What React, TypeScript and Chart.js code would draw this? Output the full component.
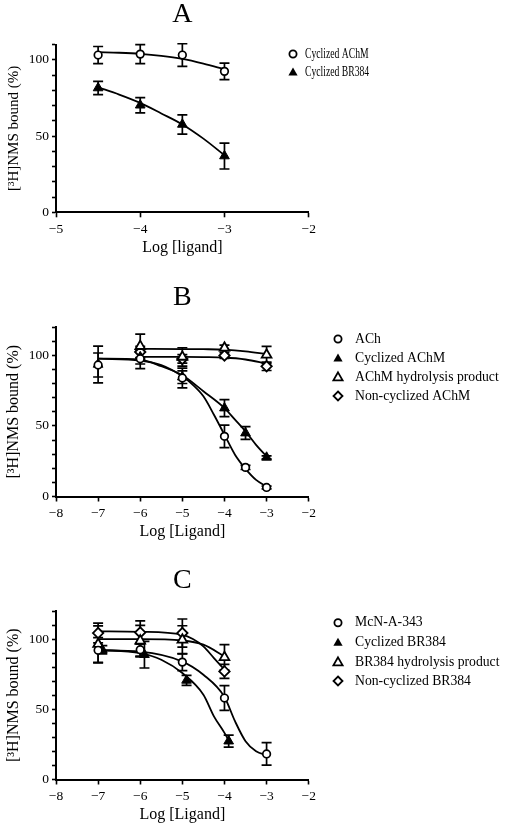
import React, { useEffect, useRef } from 'react';
import { Chart, registerables } from 'chart.js';

Chart.register(...registerables);

const FONT = "'Liberation Serif', 'Times New Roman', Times, serif";

// ---------------- Shared tick labels ----------------
const yTickValues = [0, 50, 100];
const yTickLabels = ['0', '50', '100'];
const yTitle = '[³H]NMS bound (%)';

// ---------------- Panel A ----------------
const aXTickValues = [-5, -4, -3, -2];
const aXTickLabels = ['−5', '−4', '−3', '−2'];
const aLegend = ['Cyclized AChM', 'Cyclized BR384'];
const aX = [-4.5, -4, -3.5, -3];
const aCycAChM = [103.1, 103.7, 103.1, 92.4];
const aCycAChMErr = [5.6, 6.2, 7.4, 5.4];
const aCycBR = [81.5, 70.2, 57.6, 36.9];
const aCycBRErr = [4.3, 5.0, 6.3, 8.5];
const aFitX = [-4.5, -4.25, -4, -3.75, -3.5, -3.25, -3];
const aFitAChM = [105, 104.6, 103.9, 102.6, 100.6, 97.5, 93.8];
const aFitBR = [81.9, 77.2, 71.7, 64.8, 57.6, 48.3, 37.4];

// ---------------- Panel B ----------------
const bXTickValues = [-8, -7, -6, -5, -4, -3, -2];
const bXTickLabels = ['−8', '−7', '−6', '−5', '−4', '−3', '−2'];
const bLegend = ['ACh', 'Cyclized AChM', 'AChM hydrolysis product', 'Non-cyclized AChM'];
const bAChX = [-7, -6, -5, -4, -3.5, -3];
const bACh = [93.1, 97.5, 83.9, 42.6, 20.6, 6.4];
const bAChErr = [8.5, 7, 7, 8, 1.5, 1];
const bCycX = [-7, -6, -5, -4, -3.5, -3];
const bCyc = [93.5, 98.8, 84.5, 62.6, 44.9, 27.7];
const bCycErr = [13, 5, 4.5, 6, 4.5, 1];
const bHydX = [-6, -5, -4, -3];
const bHyd = [106.4, 98.8, 105.2, 100.3];
const bHydErr = [8.5, 6.5, 2, 6];
const bNonX = [-6, -5, -4, -3];
const bNon = [102.3, 97.4, 99.8, 92.2];
const bNonErr = [4, 3, 2, 3];
const bFitAChX = [-7, -6, -5.5, -5, -4.75, -4.5, -4.25, -4, -3.75, -3.5, -3.25, -3];
const bFitACh = [97.6, 96.2, 93, 85.1, 79, 70.9, 57.9, 43.7, 29.6, 19.6, 11.8, 7.1];
const bFitCycX = [-7, -6, -5.5, -5, -4.5, -4, -3.75, -3.5, -3.25, -3];
const bFitCyc = [97.6, 96.9, 92.2, 85.8, 74.5, 62.6, 54.4, 46.1, 36.6, 28.4];
const bFitHydX = [-6, -5, -4.5, -4, -3.5, -3];
const bFitHyd = [104.5, 104.4, 104.3, 104.0, 102.8, 100.8];
const bFitNonX = [-6, -5, -4.5, -4, -3.5, -3];
const bFitNon = [98.8, 98.8, 98.7, 98.4, 97, 94];

// ---------------- Panel C ----------------
const cXTickValues = bXTickValues;
const cXTickLabels = bXTickLabels;
const cLegend = ['McN-A-343', 'Cyclized BR384', 'BR384 hydrolysis product', 'Non-cyclized BR384'];
const cMcNX = [-7, -6, -5, -4, -3];
const cMcN = [92, 92.4, 83.6, 58, 18.2];
const cMcNErr = [9, 5, 6, 8.8, 8];
const cCycX = [-6.9, -5.9, -4.9, -3.9];
const cCyc = [92.4, 88.9, 70.6, 27.3];
const cCycErr = [3, 9.5, 3.5, 4.3];
const cHydX = [-7, -6, -5, -4];
const cHyd = [96.4, 98.8, 99.5, 87];
const cHydErr = [13, 11, 10, 9];
const cNonX = [-7, -6, -5, -4];
const cNon = [104.3, 104.7, 104.3, 77];
const cNonErr = [7, 8.3, 10, 5];
const cFitMcNX = [-7, -6, -5, -4.5, -4, -3.75, -3.5, -3.25, -3];
const cFitMcN = [92, 91, 84, 74.6, 58.8, 41.5, 27.3, 20.1, 17.3];
const cFitCycX = [-7, -6, -5.5, -5, -4.5, -4.25, -4, -3.9];
const cFitCyc = [92.4, 90, 85.3, 75.8, 60.4, 45, 33.2, 28];
const cFitHydX = [-7, -6, -5, -4.5, -4];
const cFitHyd = [100, 100, 99, 96, 87.7];
const cFitNonX = [-7, -6, -5, -4.75, -4.5, -4.25, -4];
const cFitNon = [105.5, 105.2, 103, 100, 94.8, 86.5, 78.2];

// ---------------- Types & helpers ----------------
type MarkerStyle = 'circle' | 'triangle' | 'openTriangle' | 'diamond';

interface Series {
  label: string;
  style: MarkerStyle;
  xs: number[];
  ys: number[];
  errs: number[];
  fitX: number[];
  fitY: number[];
}

interface PanelCfg {
  letter: string;
  top: number;
  height: number;
  plotTop: number;
  plotBottom: number;
  xMin: number;
  yMax: number;
  xTickValues: number[];
  xTickLabels: string[];
  xTitle: string;
  yTitleSize: number;
  yTitlePad: number;
  tickSize: number;
  titleBaseline: number;
  legendMarkerX: number;
  legendTextX: number;
  legendRows: number[];
  legendFont: number;
  legendScale: number;
  series: Series[];
}

const zip = (xs: number[], ys: number[]) => xs.map((x, i) => ({ x, y: ys[i] }));

function pointProps(style: MarkerStyle) {
  switch (style) {
    case 'circle':
      return { pointStyle: 'circle', pointRadius: 3.8, pointBackgroundColor: '#fff', pointBorderColor: '#000', pointBorderWidth: 1.7 };
    case 'triangle':
      return { pointStyle: 'triangle', pointRadius: 5.6, pointBackgroundColor: '#000', pointBorderColor: '#000', pointBorderWidth: 1 };
    case 'openTriangle':
      return { pointStyle: 'triangle', pointRadius: 5.6, pointBackgroundColor: '#fff', pointBorderColor: '#000', pointBorderWidth: 1.8 };
    case 'diamond':
    default:
      return { pointStyle: 'rectRot', pointRadius: 5.2, pointBackgroundColor: '#fff', pointBorderColor: '#000', pointBorderWidth: 1.8 };
  }
}

function drawMarker(ctx: CanvasRenderingContext2D, style: MarkerStyle, x: number, y: number) {
  ctx.save();
  ctx.strokeStyle = '#000';
  ctx.fillStyle = '#000';
  ctx.lineWidth = 1.8;
  ctx.beginPath();
  if (style === 'circle') {
    ctx.arc(x, y, 3.6, 0, Math.PI * 2);
    ctx.fillStyle = '#fff';
    ctx.fill();
    ctx.stroke();
  } else if (style === 'triangle' || style === 'openTriangle') {
    ctx.moveTo(x, y - 4.6);
    ctx.lineTo(x + 4.6, y + 3.4);
    ctx.lineTo(x - 4.6, y + 3.4);
    ctx.closePath();
    if (style === 'triangle') {
      ctx.fill();
    } else {
      ctx.fillStyle = '#fff';
      ctx.fill();
      ctx.stroke();
    }
  } else {
    ctx.moveTo(x, y - 4.5);
    ctx.lineTo(x + 4.5, y);
    ctx.lineTo(x, y + 4.5);
    ctx.lineTo(x - 4.5, y);
    ctx.closePath();
    ctx.fillStyle = '#fff';
    ctx.fill();
    ctx.stroke();
  }
  ctx.restore();
}

const errorBarPlugin = {
  id: 'errorBars',
  beforeDatasetsDraw(chart: any) {
    const ctx: CanvasRenderingContext2D = chart.ctx;
    const xs = chart.scales.x;
    const ys = chart.scales.y;
    ctx.save();
    ctx.strokeStyle = '#000';
    ctx.lineWidth = 1.7;
    chart.data.datasets.forEach((ds: any) => {
      if (!ds.errs) return;
      ds.data.forEach((p: any, i: number) => {
        const e = ds.errs[i];
        if (!e) return;
        const px = xs.getPixelForValue(p.x);
        const y1 = ys.getPixelForValue(p.y + e);
        const y2 = ys.getPixelForValue(p.y - e);
        ctx.beginPath();
        ctx.moveTo(px, y1);
        ctx.lineTo(px, y2);
        ctx.moveTo(px - 5, y1);
        ctx.lineTo(px + 5, y1);
        ctx.moveTo(px - 5, y2);
        ctx.lineTo(px + 5, y2);
        ctx.stroke();
      });
    });
    ctx.restore();
  },
};

function makeOverlay(cfg: PanelCfg) {
  return {
    id: 'overlay' + cfg.letter,
    afterDraw(chart: any) {
      const ctx: CanvasRenderingContext2D = chart.ctx;
      const ca = chart.chartArea;
      ctx.save();
      ctx.fillStyle = '#000';
      ctx.font = `28px ${FONT}`;
      ctx.textAlign = 'center';
      ctx.textBaseline = 'alphabetic';
      ctx.fillText(cfg.letter, (ca.left + ca.right) / 2, cfg.titleBaseline);
      ctx.font = `${cfg.legendFont}px ${FONT}`;
      ctx.textAlign = 'left';
      ctx.textBaseline = 'middle';
      cfg.series.forEach((s, i) => {
        const y = cfg.legendRows[i];
        drawMarker(ctx, s.style, cfg.legendMarkerX, y);
        ctx.save();
        ctx.translate(cfg.legendTextX, y);
        ctx.scale(cfg.legendScale, 1);
        ctx.fillStyle = '#000';
        ctx.fillText(s.label, 0, 0);
        ctx.restore();
      });
      ctx.restore();
    },
  };
}

const PLOT_LEFT = 56;
const PLOT_RIGHT = 308.7;
const X_AXIS_H = 43;

function buildConfig(cfg: PanelCfg): any {
  const datasets: any[] = [];
  cfg.series.forEach((s) => {
    datasets.push({
      label: s.label,
      data: zip(s.xs, s.ys),
      errs: s.errs,
      showLine: false,
      order: 0,
      ...pointProps(s.style),
    });
  });
  cfg.series.forEach((s) => {
    datasets.push({
      label: s.label + ' fit',
      data: zip(s.fitX, s.fitY),
      showLine: true,
      pointRadius: 0,
      borderColor: '#000',
      borderWidth: 1.8,
      cubicInterpolationMode: 'monotone',
      fill: false,
      order: 1,
    });
  });
  const padBottom = Math.max(0, cfg.height - cfg.plotBottom - X_AXIS_H);
  return {
    type: 'scatter',
    data: { datasets },
    options: {
      responsive: false,
      animation: false,
      events: [],
      layout: {
        padding: { left: 0, right: 505 - PLOT_RIGHT, top: cfg.plotTop, bottom: padBottom },
      },
      plugins: {
        legend: { display: false },
        title: { display: false },
        tooltip: { enabled: false },
      },
      scales: {
        x: {
          type: 'linear',
          position: 'bottom',
          min: cfg.xMin,
          max: -2,
          ticks: {
            stepSize: 1,
            autoSkip: false,
            maxRotation: 0,
            color: '#000',
            padding: 4,
            font: { family: FONT, size: cfg.tickSize },
            callback: (v: number) => {
              const idx = cfg.xTickValues.indexOf(Math.round(v));
              return idx >= 0 ? cfg.xTickLabels[idx] : '';
            },
          },
          grid: { display: true, drawOnChartArea: false, drawTicks: true, tickLength: 5, tickColor: '#000', tickWidth: 1.6, color: '#000' },
          border: { display: true, color: '#000', width: 2 },
          title: {
            display: true,
            text: cfg.xTitle,
            color: '#000',
            padding: 0,
            font: { family: FONT, size: 16, lineHeight: 1 },
          },
          afterFit: (scale: any) => {
            scale.height = X_AXIS_H;
          },
        },
        y: {
          type: 'linear',
          position: 'left',
          min: 0,
          max: cfg.yMax,
          ticks: {
            stepSize: 10,
            autoSkip: false,
            color: '#000',
            padding: 3,
            font: { family: FONT, size: cfg.tickSize },
            callback: (v: number) => {
              const idx = yTickValues.indexOf(Math.round(v));
              return idx >= 0 ? yTickLabels[idx] : '';
            },
          },
          grid: { display: true, drawOnChartArea: false, drawTicks: true, tickLength: 4, tickColor: '#000', tickWidth: 1.6, color: '#000' },
          border: { display: true, color: '#000', width: 2 },
          title: {
            display: true,
            text: yTitle,
            color: '#000',
            padding: { top: cfg.yTitlePad, bottom: 0 },
            font: { family: FONT, size: cfg.yTitleSize, lineHeight: 1 },
          },
          afterFit: (scale: any) => {
            scale.width = PLOT_LEFT;
          },
        },
      },
    },
    plugins: [errorBarPlugin, makeOverlay(cfg)],
  };
}

const panelA: PanelCfg = {
  letter: 'A',
  top: 0,
  height: 265,
  plotTop: 44.5,
  plotBottom: 212.3,
  xMin: -5,
  yMax: 110,
  xTickValues: aXTickValues,
  xTickLabels: aXTickLabels,
  xTitle: 'Log [ligand]',
  yTitleSize: 15,
  yTitlePad: 7,
  tickSize: 13.5,
  titleBaseline: 21.5,
  legendMarkerX: 293,
  legendTextX: 305,
  legendRows: [54, 72],
  legendFont: 14,
  legendScale: 0.69,
  series: [
    { label: aLegend[0], style: 'circle', xs: aX, ys: aCycAChM, errs: aCycAChMErr, fitX: aFitX, fitY: aFitAChM },
    { label: aLegend[1], style: 'triangle', xs: aX, ys: aCycBR, errs: aCycBRErr, fitX: aFitX, fitY: aFitBR },
  ],
};

const panelB: PanelCfg = {
  letter: 'B',
  top: 265,
  height: 280,
  plotTop: 62,
  plotBottom: 231.5,
  xMin: -8,
  yMax: 120,
  xTickValues: bXTickValues,
  xTickLabels: bXTickLabels,
  xTitle: 'Log [Ligand]',
  yTitleSize: 16,
  yTitlePad: 5.5,
  tickSize: 13.5,
  titleBaseline: 40,
  legendMarkerX: 338,
  legendTextX: 355,
  legendRows: [74, 93, 112, 131],
  legendFont: 13.7,
  legendScale: 1,
  series: [
    { label: bLegend[0], style: 'circle', xs: bAChX, ys: bACh, errs: bAChErr, fitX: bFitAChX, fitY: bFitACh },
    { label: bLegend[1], style: 'triangle', xs: bCycX, ys: bCyc, errs: bCycErr, fitX: bFitCycX, fitY: bFitCyc },
    { label: bLegend[2], style: 'openTriangle', xs: bHydX, ys: bHyd, errs: bHydErr, fitX: bFitHydX, fitY: bFitHyd },
    { label: bLegend[3], style: 'diamond', xs: bNonX, ys: bNon, errs: bNonErr, fitX: bFitNonX, fitY: bFitNon },
  ],
};

const panelC: PanelCfg = {
  letter: 'C',
  top: 545,
  height: 278,
  plotTop: 66,
  plotBottom: 234.5,
  xMin: -8,
  yMax: 120,
  xTickValues: cXTickValues,
  xTickLabels: cXTickLabels,
  xTitle: 'Log [Ligand]',
  yTitleSize: 16,
  yTitlePad: 5.5,
  tickSize: 13.5,
  titleBaseline: 43,
  legendMarkerX: 338,
  legendTextX: 355,
  legendRows: [77.7, 97.3, 117, 136],
  legendFont: 13.7,
  legendScale: 1,
  series: [
    { label: cLegend[0], style: 'circle', xs: cMcNX, ys: cMcN, errs: cMcNErr, fitX: cFitMcNX, fitY: cFitMcN },
    { label: cLegend[1], style: 'triangle', xs: cCycX, ys: cCyc, errs: cCycErr, fitX: cFitCycX, fitY: cFitCyc },
    { label: cLegend[2], style: 'openTriangle', xs: cHydX, ys: cHyd, errs: cHydErr, fitX: cFitHydX, fitY: cFitHyd },
    { label: cLegend[3], style: 'diamond', xs: cNonX, ys: cNon, errs: cNonErr, fitX: cFitNonX, fitY: cFitNon },
  ],
};

function Panel({ cfg }: { cfg: PanelCfg }) {
  const ref = useRef<HTMLCanvasElement | null>(null);
  useEffect(() => {
    if (!ref.current) return;
    const chart = new Chart(ref.current, buildConfig(cfg));
    return () => chart.destroy();
  }, [cfg]);
  return (
    <canvas
      ref={ref}
      width={505}
      height={cfg.height}
      style={{ position: 'absolute', left: 0, top: cfg.top, width: 505, height: cfg.height, display: 'block' }}
    />
  );
}

export default function App() {
  return (
    <div style={{ position: 'absolute', left: 0, top: 0, width: 505, height: 823, background: '#fff', overflow: 'hidden' }}>
      <Panel cfg={panelA} />
      <Panel cfg={panelB} />
      <Panel cfg={panelC} />
    </div>
  );
}
